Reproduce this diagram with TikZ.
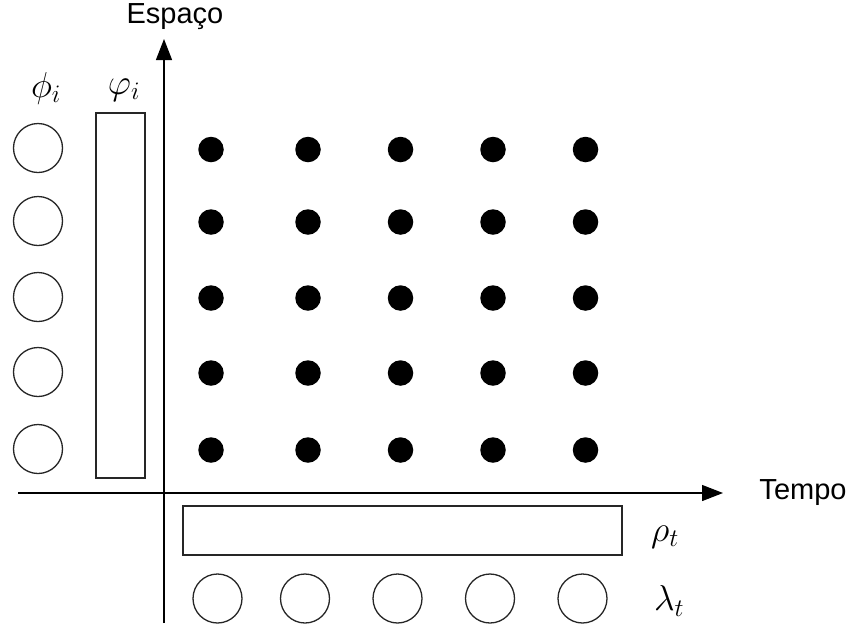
\RequirePackage{fix-cm}
\documentclass[tikz,border=0pt]{standalone}
\usepackage{fontspec}
\setsansfont{Liberation Sans}
\usetikzlibrary{arrows.meta}
\begin{document}
\begin{tikzpicture}[x=1pt,y=-1pt,
  ln/.style={line width=1.3pt,draw=black!85},
  hollow/.style={circle,ln,minimum size=49pt,inner sep=0pt},
  dot/.style={circle,fill=black,minimum size=25.5pt,inner sep=0pt},
  bar/.style={rectangle,ln,inner sep=0pt},
  axis/.style={line width=1.3pt,-{Triangle[length=21pt,width=16pt]}},
  word/.style={font=\sffamily\fontsize{29}{34}\selectfont,inner sep=0pt},
  sym/.style={font=\fontsize{36}{40}\selectfont,inner sep=0pt}]
\useasboundingbox (0,0) rectangle (856,630);
% axes
\coordinate (hx0) at (18,493);
\coordinate (hx1) at (723,493);
\coordinate (vy0) at (164,623);
\coordinate (vy1) at (164,39);
\draw[axis] (hx0) -- (hx1);
\draw[axis] (vy0) -- (vy1);
\node[word] (espaco) at (175,17) {Espaço};
\node[word] (tempo) at (803,493) {Tempo};
% left column of circles
\foreach \r/\y in {1/148,2/221,3/297,4/372,5/449}
  \node[hollow] (phi\r) at (38,\y) {};
% tall bar
\node[bar,minimum width=49pt,minimum height=365pt] (vbar) at (120.5,295.5) {};
% dots
\foreach \c/\x in {1/211,2/308,3/400.5,4/493,5/585.5}
  \foreach \r/\y in {1/149.5,2/222,3/298,4/373,5/450}
    \node[dot] (d\c\r) at (\x,\y) {};
% bottom bar
\node[bar,minimum width=439pt,minimum height=49pt] (hbar) at (402.5,530.5) {};
% bottom circles
\foreach \c/\x in {1/217.5,2/305,3/397.5,4/490,5/582.5}
  \node[hollow] (lam\c) at (\x,598.5) {};
% labels
\node[sym] (lphi) at (46,88) {$\phi_i$};
\node[sym] (lvphi) at (124,90) {$\varphi_i$};
\node[sym] (lrho) at (665,537) {$\rho_t$};
\node[sym] (llam) at (669,601) {$\lambda_t$};
\end{tikzpicture}
\end{document}
